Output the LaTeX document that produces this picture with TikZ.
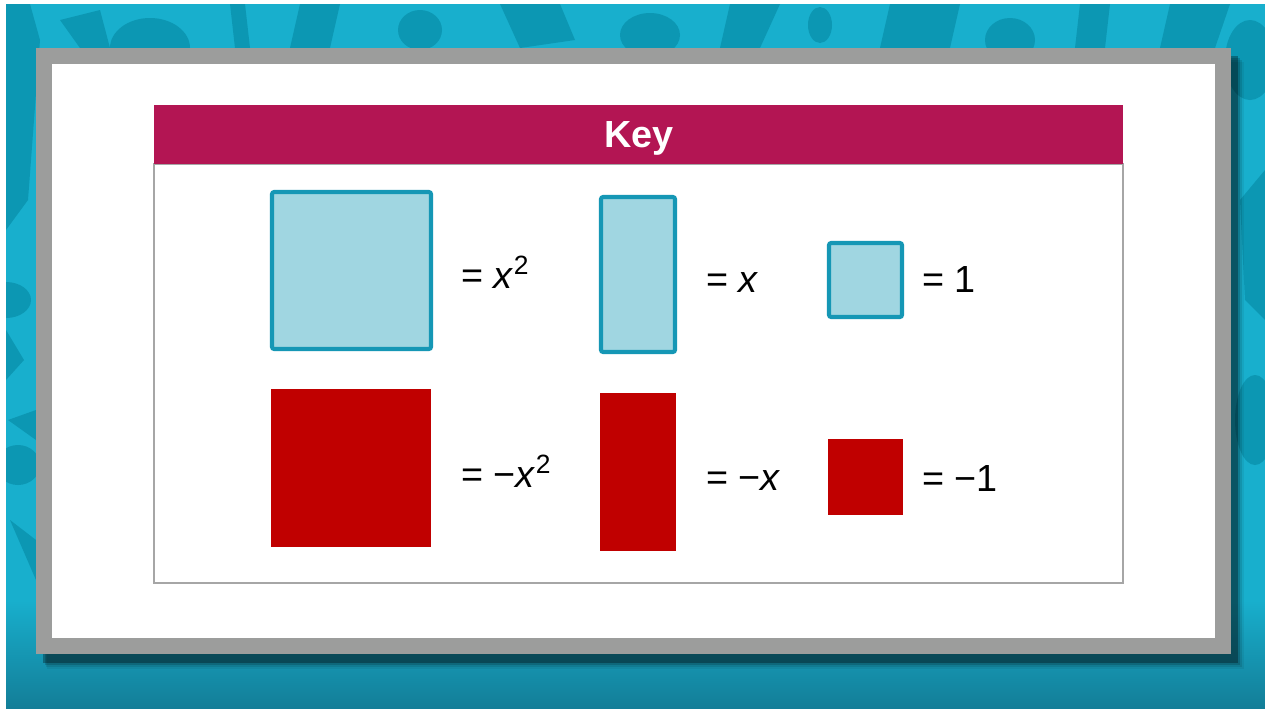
\documentclass[tikz,border=0pt]{standalone}
\usepackage{fontspec}
\setmainfont{Liberation Sans}
\usetikzlibrary{positioning, calc}

\definecolor{teal}{HTML}{18AFCD}
\definecolor{tealdark}{HTML}{0C97B3}
\definecolor{tealdeep}{HTML}{137E98}
\definecolor{frame}{HTML}{9C9D9C}
\definecolor{keyred}{HTML}{B31553}
\definecolor{tilefill}{HTML}{A0D6E1}
\definecolor{tileedge}{HTML}{1597B5}
\definecolor{tilered}{HTML}{C00000}

\newlength\px
\setlength\px{0.02cm}

\begin{document}
\begin{tikzpicture}[
    x=0.02cm, y=-0.02cm,
    font=\fontsize{21.5}{25}\selectfont,
    bluetile/.style={
        rectangle, draw=tileedge, fill=tilefill, line width=2.3pt,
        rounded corners=1.2pt, inner sep=0pt
    },
    redtile/.style={
        rectangle, fill=tilered, inner sep=0pt
    },
    eqlabel/.style={anchor=base west, inner sep=0pt},
    blob/.style={fill=tealdark}
]

%% ─── CANVAS ─────────────────────────────────────────────────────────────

\useasboundingbox[fill=white] (0,0) rectangle (1265,708);
\fill[teal] (6,4) rectangle (1265,708);

%% ─── BACKGROUND PATTERN (dark teal glyph pieces) ────────────────────────

\begin{scope}
\clip (6,4) rectangle (1265,708);
\fill[blob] (6,4) -- (30,4) -- (40,40) -- (28,200) -- (6,230) -- cycle;
\fill[blob] (60,20) -- (100,10) -- (110,48) -- (80,48) -- cycle;
\fill[blob] (150,48) ellipse (40 and 30);
\fill[blob] (230,4) -- (245,4) -- (250,48) -- (235,48) -- cycle;
\fill[blob] (300,4) -- (340,4) -- (330,48) -- (290,48) -- cycle;
\fill[blob] (420,30) ellipse (22 and 20);
\fill[blob] (500,4) -- (560,4) -- (575,40) -- (520,48) -- cycle;
\fill[blob] (650,35) ellipse (30 and 22);
\fill[blob] (730,4) -- (780,4) -- (760,48) -- (720,48) -- cycle;
\fill[blob] (820,25) ellipse (12 and 18);
\fill[blob] (890,4) -- (960,4) -- (950,48) -- (880,48) -- cycle;
\fill[blob] (1010,40) ellipse (25 and 22);
\fill[blob] (1080,4) -- (1110,4) -- (1105,48) -- (1075,48) -- cycle;
\fill[blob] (1170,4) -- (1230,4) -- (1215,48) -- (1160,48) -- cycle;
\fill[blob] (1250,60) ellipse (25 and 40);
\fill[blob] (1240,200) -- (1265,170) -- (1265,320) -- (1245,300) -- cycle;
\fill[blob] (1255,420) ellipse (20 and 45);
\fill[blob] (6,300) ellipse (25 and 18);
\fill[blob] (6,330) -- (24,360) -- (6,380) -- cycle;
\fill[blob] (8,420) -- (36,410) -- (36,440) -- cycle;
\fill[blob] (18,465) ellipse (22 and 20);
\fill[blob] (10,520) -- (36,540) -- (36,580) -- cycle;
\end{scope}

% bottom gradient
\shade[top color=teal, bottom color=tealdeep] (6,600) rectangle (1265,708);

%% ─── FRAME ──────────────────────────────────────────────────────────────

\foreach \s/\o in {16/0.06, 12/0.1, 8/0.16, 4/0.3}
    \fill[black, opacity=\o] (42+\s/3,54+\s/2) rectangle (1236+\s/2,661+\s/2);
\fill[frame] (36,48) rectangle (1231,654);
\fill[white] (52,64) rectangle (1215,638);

%% ─── KEY BOX ────────────────────────────────────────────────────────────

\draw[gray!70, line width=0.6pt, fill=white] (154,164) rectangle (1123,583);
\fill[keyred] (154,105) rectangle (1123,164);
\node[text=white, font=\fontsize{21.5}{24}\selectfont\bfseries] (key) at (639,138) {Key};

%% ─── TILES ──────────────────────────────────────────────────────────────

\node[bluetile, minimum width=159\px, minimum height=157\px] (sqA) at (351.5,270.5) {};
\node[bluetile, minimum width=74\px,  minimum height=155\px] (sqB) at (638,274.5) {};
\node[bluetile, minimum width=73\px,  minimum height=74\px]  (sqC) at (865.5,280) {};

\node[redtile, minimum width=160\px, minimum height=158\px] (rdA) at (351,468) {};
\node[redtile, minimum width=76\px,  minimum height=158\px] (rdB) at (638,472) {};
\node[redtile, minimum width=75\px,  minimum height=76\px]  (rdC) at (865.5,477) {};

%% ─── LABELS ─────────────────────────────────────────────────────────────

\node[eqlabel] (lbA) at (461,288) {= \textit{x}\textsuperscript{2}};
\node[eqlabel] (lbB) at (706,292) {= \textit{x}};
\node[eqlabel] (lbC) at (922,292) {= 1};

\node[eqlabel] (lrA) at (461,487) {= −\textit{x}\textsuperscript{2}};
\node[eqlabel] (lrB) at (706,490) {= −\textit{x}};
\node[eqlabel] (lrC) at (922,491) {= −1};

\end{tikzpicture}
\end{document}
